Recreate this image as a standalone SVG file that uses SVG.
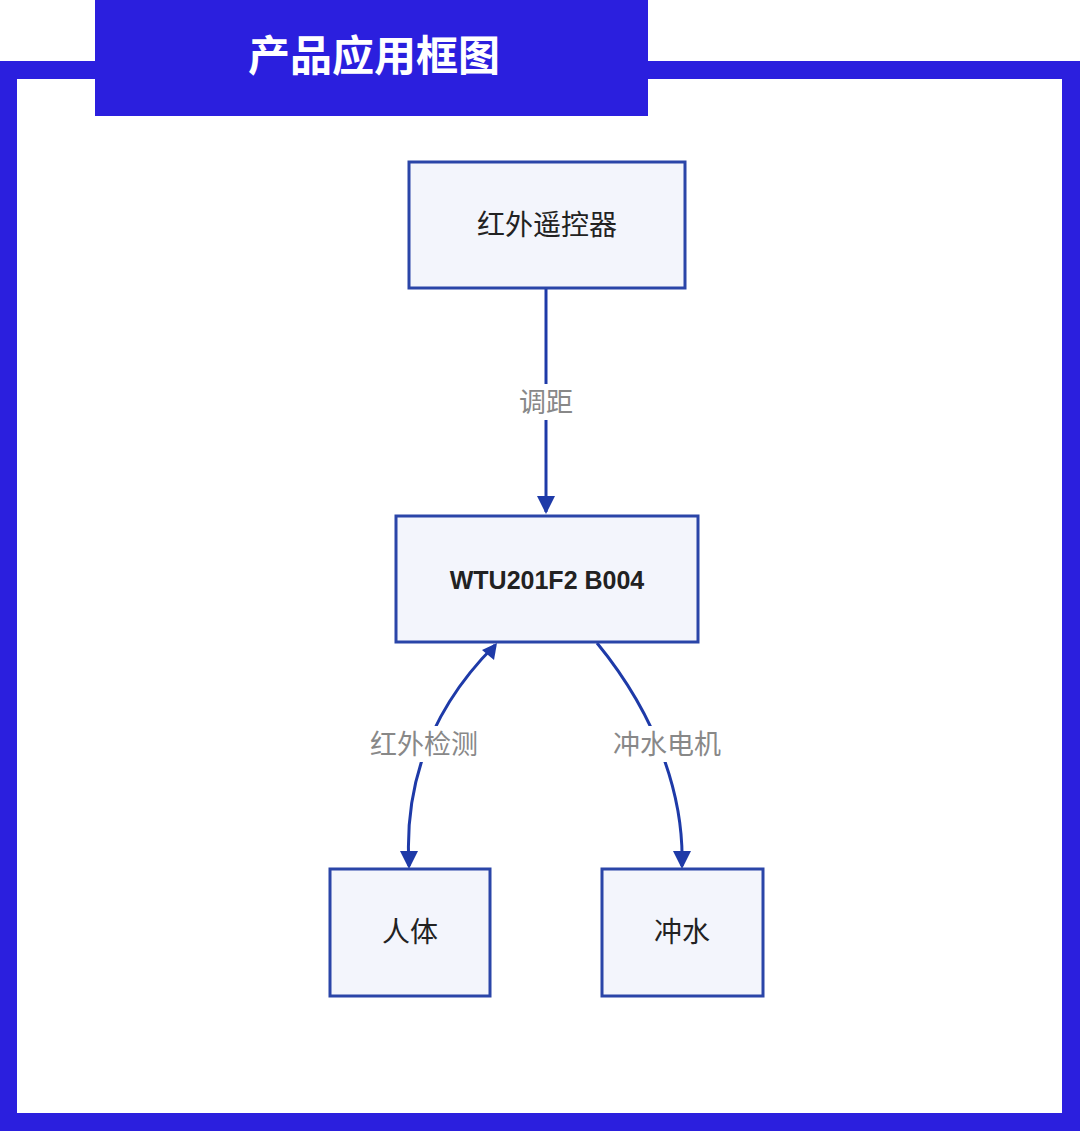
<svg xmlns="http://www.w3.org/2000/svg" width="1080" height="1131" viewBox="0 0 1080 1131">
<style>
.node rect{fill:#f3f5fc;stroke:#2a45a8;stroke-width:3}
.node text{font-family:"Noto Sans CJK SC","Liberation Sans",sans-serif;font-size:28px;fill:#222;text-anchor:middle}
.edge{fill:none;stroke:#1e3aa8;stroke-width:3}
.lbl{font-family:"Noto Sans CJK SC",sans-serif;font-size:27px;fill:#888;text-anchor:middle}
</style>
<defs>
<marker id="ah" viewBox="0 0 10 10" refX="9" refY="5" markerWidth="7" markerHeight="7" orient="auto-start-reverse" markerUnits="userSpaceOnUse">
<path d="M0,0L10,5L0,10z" fill="#1e3aa8"/>
</marker>
</defs>
<rect width="1080" height="1131" fill="#fff"/>
<path d="M0,61H1080V1131H0Z M17,79V1113H1062V79Z" fill="#2b1fde" fill-rule="evenodd"/>
<rect x="95" y="0" width="553" height="116" fill="#2b1fde"/>
<text x="374" y="71" font-family="Noto Sans CJK SC,sans-serif" font-size="42" font-weight="bold" fill="#fff" text-anchor="middle">产品应用框图</text>
<g id="connectors">
<path class="edge" d="M546,288V512" marker-end="url(#ah)" style="marker-end:none"/>
<path d="M537,496L546,514L555,496z" fill="#1e3aa8"/>
<path class="edge" d="M409,866C405,800 420,720 495,645" marker-start="url(#ah)" marker-end="url(#ah)" style="marker:none"/>
<path d="M400,851L409,869L418,851z" fill="#1e3aa8"/>
<path d="M482,650L497,643L494,660z" fill="#1e3aa8"/>
<path class="edge" d="M597,643C660,720 684,800 682,866"/>
<path d="M673,851L682,869L691,851z" fill="#1e3aa8"/>
<rect x="512" y="384" width="68" height="36" fill="#fff"/>
<text class="lbl" x="546" y="412">调距</text>
<rect x="362" y="726" width="124" height="36" fill="#fff"/>
<text class="lbl" x="424" y="754">红外检测</text>
<rect x="605" y="726" width="124" height="36" fill="#fff"/>
<text class="lbl" x="667" y="754">冲水电机</text>
</g>
<g id="n1" class="node"><rect x="409" y="162" width="276" height="126"/><text x="547" y="235">红外遥控器</text></g>
<g id="n2" class="node"><rect x="396" y="516" width="302" height="126"/><text x="547" y="589" font-weight="bold" style="font-family:'Liberation Sans',sans-serif;font-size:25px">WTU201F2 B004</text></g>
<g id="n3" class="node"><rect x="330" y="869" width="160" height="127"/><text x="410" y="942">人体</text></g>
<g id="n4" class="node"><rect x="602" y="869" width="161" height="127"/><text x="682" y="942">冲水</text></g>
</svg>
